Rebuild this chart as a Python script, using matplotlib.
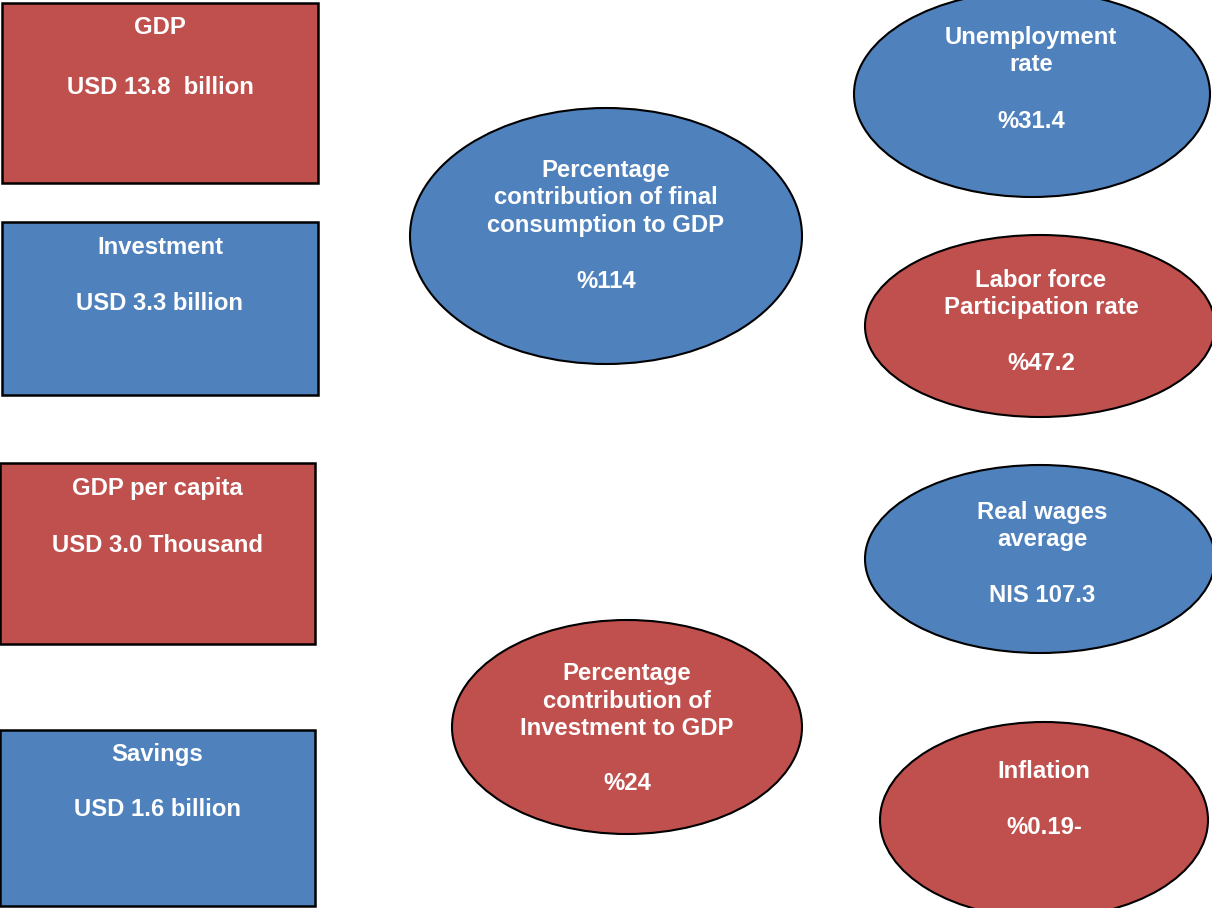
import matplotlib.pyplot as plt
from matplotlib.patches import Rectangle, Ellipse

# indicator names and values
box_titles = ['GDP', 'Investment', 'GDP per capita', 'Savings']
box_values = ['USD 13.8  billion', 'USD 3.3 billion', 'USD 3.0 Thousand', 'USD 1.6 billion']
oval_titles = ['Percentage\ncontribution of final\nconsumption to GDP',
               'Unemployment\nrate',
               'Labor force\nParticipation rate',
               'Real wages\naverage',
               'Inflation',
               'Percentage\ncontribution of\nInvestment to GDP']
oval_values = ['%114', '%31.4', '%47.2', 'NIS 107.3', '%0.19-', '%24']

red = '#C0504D'
blue = '#4F81BD'

# layout in pixels: (x0, y0, x1, y1), title y, value y
box_layout = [((2, 3, 318, 183), 27, 87, red),
              ((2, 222, 318, 395), 247, 303, blue),
              ((0, 463, 315, 644), 489, 545, red),
              ((0, 730, 315, 906), 755, 810, blue)]
# (cx, cy, w, h), text x, title y, value y
oval_layout = [((606, 236, 392, 256), 606, 198, 281, blue),
               ((1032, 94, 356, 206), 1031, 51, 121, blue),
               ((1040, 326, 350, 182), 1041, 294, 363, red),
               ((1040, 559, 350, 188), 1042, 526, 595, blue),
               ((1044, 820, 328, 196), 1044, 771, 828, red),
               ((627, 727, 350, 214), 627, 701, 784, red)]

fig = plt.figure(figsize=(12.12, 9.08), dpi=100)
ax = fig.add_axes([0, 0, 1, 1])
ax.set_xlim(0, 1212)
ax.set_ylim(908, 0)
ax.axis('off')

font = dict(family='Liberation Sans', fontweight='bold', fontsize=17.2, color='white',
            ha='center', va='center', linespacing=1.25)

for i, ((x0, y0, x1, y1), ty, vy, c) in enumerate(box_layout):
    ax.add_patch(Rectangle((x0, y0), x1 - x0, y1 - y0, facecolor=c, edgecolor='black', lw=1.8))
    cx = (x0 + x1) / 2
    ax.text(cx, ty, box_titles[i], **font)
    ax.text(cx, vy, box_values[i], **font)

for i, ((cx, cy, w, h), tx, ty, vy, c) in enumerate(oval_layout):
    ax.add_patch(Ellipse((cx, cy), w, h, facecolor=c, edgecolor='black', lw=1.5))
    ax.text(tx, ty, oval_titles[i], **font)
    ax.text(tx, vy, oval_values[i], **font)

fig.savefig('out.png', dpi=100)
